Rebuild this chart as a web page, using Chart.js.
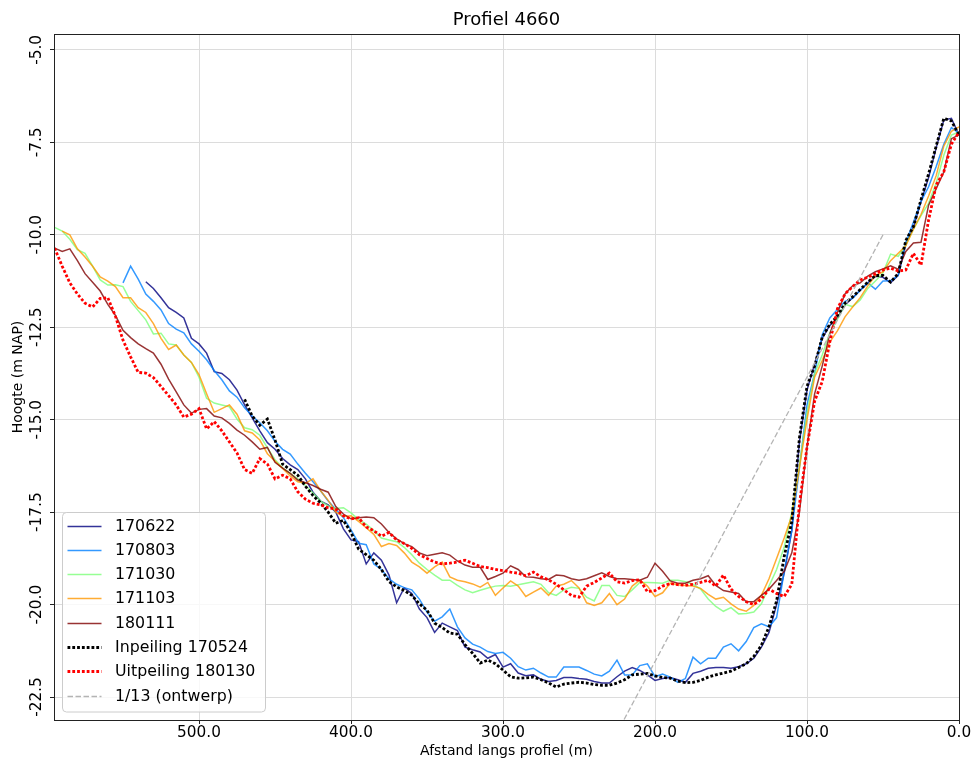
<!DOCTYPE html>
<html>
<head>
<meta charset="utf-8">
<title>Profiel 4660</title>
<script src="https://cdn.jsdelivr.net/npm/chart.js@4.4.1/dist/chart.umd.min.js"></script>
<style>
  html, body { margin: 0; padding: 0; background: #fff; }
  #wrap { width: 974px; height: 758px; }
</style>
</head>
<body>
<div id="wrap"><canvas id="profileChart" width="974" height="758"></canvas></div>
<script>
// afstand langs profiel (m), one value per 5 m
const dist = [
  595, 590, 585, 580, 575, 570, 565, 560, 555, 550,
  545, 540, 535, 530, 525, 520, 515, 510, 505, 500,
  495, 490, 485, 480, 475, 470, 465, 460, 455, 450,
  445, 440, 435, 430, 425, 420, 415, 410, 405, 400,
  395, 390, 385, 380, 375, 370, 365, 360, 355, 350,
  345, 340, 335, 330, 325, 320, 315, 310, 305, 300,
  295, 290, 285, 280, 275, 270, 265, 260, 255, 250,
  245, 240, 235, 230, 225, 220, 215, 210, 205, 200,
  195, 190, 185, 180, 175, 170, 165, 160, 155, 150,
  145, 140, 135, 130, 125, 120, 115, 110, 105, 100,
  95, 90, 85, 80, 75, 70, 65, 60, 55, 50,
  45, 40, 35, 30, 25, 20, 15, 10, 5, 0
];

// hoogte (m NAP) per survey
const h170622 = [
  null, null, null, null, null, null, null, null, null, null,
  null, null, -11.27, -11.45, -11.7, -11.97, -12.1, -12.25, -12.8, -12.95,
  -13.2, -13.7, -13.75, -13.92, -14.2, -14.6, -14.95, -15.3, -15.62, -15.8,
  -16.05, -16.22, -16.35, -16.6, -16.96, -17.2, -17.3, -17.5, -17.95, -18.25,
  -18.3, -18.9, -18.6, -18.8, -19.2, -19.95, -19.55, -19.7, -20.12, -20.35,
  -20.75, -20.5, -20.6, -20.7, -21.15, -21.22, -21.28, -21.45, -21.35, -21.69,
  -21.6, -21.85, -21.92, -21.9, -22.02, -22.08, -22.05, -21.97, -21.97, -22.0,
  -22.02, -22.08, -22.12, -22.12, -21.95, -21.8, -21.7, -21.78, -21.9, -22.05,
  -22.0, -21.97, -22.03, -22.1, -21.86, -21.8, -21.72, -21.7, -21.7, -21.72,
  -21.68, -21.6, -21.45, -21.15, -20.75, -20.0, -19.15, -18.0, -15.6, -14.2,
  -13.5, -12.8, -12.45, -12.25, -11.9, -11.7, -11.5, -11.3, -11.12, -11.15,
  -11.3, -11.1, -10.25, -9.8, -9.1, -8.45, -7.65, -6.9, -6.85, -7.3
];
const h170803 = [
  null, null, null, null, null, null, null, null, null, -11.3,
  -10.85, -11.2, -11.6, -11.8, -12.03, -12.4, -12.55, -12.65, -12.95, -13.15,
  -13.38, -13.67, -13.92, -14.22, -14.39, -14.68, -14.9, -15.08, -15.3, -15.58,
  -15.8, -15.93, -16.2, -16.45, -16.68, -16.92, -17.2, -17.42, -17.65, -17.98,
  -18.34, -18.38, -18.9, -19.05, -19.3, -19.45, -19.54, -19.6, -19.85, -20.2,
  -20.45, -20.33, -20.12, -20.6, -20.9, -21.07, -21.15, -21.27, -21.32, -21.29,
  -21.45, -21.68, -21.77, -21.72, -21.85, -21.96, -21.96, -21.69, -21.69, -21.69,
  -21.78, -21.88, -21.93, -21.8, -21.5, -21.9, -21.9, -21.65, -21.6, -21.95,
  -21.88, -21.96, -22.1, -22.0, -21.42, -21.6, -21.45, -21.45, -21.15, -21.06,
  -21.25, -21.0, -20.62, -20.52, -20.6, -20.35, -19.1, -18.0, -16.3, -14.6,
  -13.75, -12.7, -12.25, -12.02, -11.8, -11.72, -11.5, -11.3, -11.47, -11.25,
  -11.24, -11.1, -10.2, -9.66, -9.1, -8.7, -8.15, -7.55, -7.1, -7.25
];
const h171030 = [
  -9.8, -9.9, -10.12, -10.4, -10.5, -10.85, -11.22, -11.36, -11.35, -11.4,
  -11.8, -12.05, -12.3, -12.68, -12.66, -12.95, -12.98, -13.25, -13.45, -13.85,
  -14.42, -14.55, -14.6, -14.65, -14.98, -15.22, -15.27, -15.42, -15.76, -16.08,
  -16.3, -16.45, -16.6, -16.78, -16.98, -17.2, -17.33, -17.4, -17.38, -17.52,
  -17.7, -17.82, -18.0, -18.2, -18.25, -18.3, -18.45, -18.65, -18.88, -19.05,
  -19.2, -19.34, -19.34, -19.48, -19.6, -19.68, -19.61, -19.55, -19.5, -19.48,
  -19.5, -19.46, -19.42, -19.38, -19.45, -19.68, -19.75, -19.6, -19.53, -19.56,
  -19.8, -19.9, -19.48, -19.48, -19.75, -19.78, -19.6, -19.4, -19.4, -19.41,
  -19.42, -19.34, -19.34, -19.38, -19.45, -19.58, -19.85, -20.05, -20.18, -20.08,
  -20.25, -20.24, -20.2, -19.98, -19.5, -19.05, -18.45, -17.5, -16.25, -14.82,
  -13.75, -13.25, -12.65, -12.28, -11.88, -11.94, -11.76, -11.45, -11.25, -11.03,
  -10.52, -10.58, -10.28, -9.85, -9.48, -9.15, -8.6, -7.85, -7.3, -7.22
];
const h171103 = [
  null, -9.9, -10.0, -10.38, -10.6, -10.85, -11.14, -11.25, -11.4, -11.7,
  -11.7, -11.97, -12.1, -12.4, -12.8, -13.1, -12.98, -13.25, -13.45, -13.78,
  -14.3, -14.8, -14.7, -14.6, -14.85, -15.3, -15.36, -15.55, -15.92, -16.12,
  -16.32, -16.52, -16.68, -16.72, -16.6, -16.92, -17.18, -17.5, -17.62, -17.6,
  -17.75, -17.92, -18.1, -18.43, -18.35, -18.4, -18.6, -18.85, -18.98, -19.15,
  -18.98, -18.85, -19.25, -19.34, -19.38, -19.44, -19.53, -19.4, -19.75, -19.55,
  -19.36, -19.5, -19.78, -19.66, -19.55, -19.75, -19.5, -19.45, -19.35, -19.55,
  -19.95, -20.02, -19.95, -19.7, -20.0, -19.85, -19.5, -19.34, -19.5, -19.78,
  -19.68, -19.42, -19.46, -19.48, -19.5, -19.56, -19.72, -19.85, -19.8, -19.98,
  -20.12, -20.18, -20.02, -19.75, -19.3, -18.75, -18.2, -17.6, -16.3, -15.0,
  -13.85, -13.4, -12.9, -12.6, -12.22, -11.95, -11.7, -11.38, -11.1, -11.0,
  -10.7, -10.5, -10.3, -9.85, -9.45, -8.95, -8.4, -7.6, -7.2, -7.08
];
const h180111 = [
  -10.36, -10.45, -10.38, -10.7, -11.05, -11.28, -11.52, -11.88, -12.18, -12.58,
  -12.78, -12.95, -13.08, -13.2, -13.5, -13.9, -14.25, -14.6, -14.82, -14.72,
  -14.7, -14.9, -14.95, -15.1, -15.28, -15.42, -15.6, -15.8, -15.75, -16.15,
  -16.31, -16.45, -16.63, -16.7, -16.78, -16.88, -16.96, -17.35, -17.55, -17.68,
  -17.65, -17.63, -17.65, -17.82, -18.05, -18.22, -18.35, -18.43, -18.6, -18.68,
  -18.64, -18.6, -18.66, -18.82, -18.93, -18.99, -18.99, -19.32, -19.24, -19.15,
  -18.95, -19.05, -19.25, -19.26, -19.3, -19.32, -19.2, -19.22, -19.3, -19.34,
  -19.3, -19.22, -19.14, -19.24, -19.3, -19.3, -19.32, -19.34, -19.26, -18.88,
  -19.1, -19.36, -19.42, -19.42, -19.34, -19.3, -19.22, -19.48, -19.62, -19.66,
  -19.7, -19.92, -19.92, -19.75, -19.58, -19.35, -19.1, -18.6, -17.5, -15.74,
  -14.3, -13.55, -12.68, -12.1, -11.6, -11.38, -11.3, -11.12, -11.0, -10.92,
  -10.84, -10.93, -10.45, -10.22, -10.2, -9.2, -8.75, -8.3, -7.4, -7.3
];
const inpeiling170524 = [
  null, null, null, null, null, null, null, null, null, null,
  null, null, null, null, null, null, null, null, null, null,
  null, null, null, null, null, -14.45, -14.9, -15.15, -14.98, -15.55,
  -16.2, -16.35, -16.5, -16.8, -17.05, -17.25, -17.5, -17.8, -17.72, -18.05,
  -18.5, -18.65, -18.8, -19.05, -19.38, -19.52, -19.62, -19.75, -19.98, -20.15,
  -20.5, -20.62, -20.77, -20.8, -21.08, -21.32, -21.58, -21.5, -21.6, -21.77,
  -21.95, -21.99, -21.98, -21.96, -22.03, -22.12, -22.23, -22.15, -22.12, -22.1,
  -22.12, -22.16, -22.18, -22.18, -22.12, -22.03, -21.9, -21.88, -21.86, -21.93,
  -21.97, -21.99, -22.07, -22.11, -22.1, -22.05, -21.96, -21.9, -21.85, -21.8,
  -21.7, -21.6, -21.4, -21.1, -20.6, -19.9, -18.7, -17.75, -15.5, -14.1,
  -13.55, -12.77, -12.42, -12.2, -11.85, -11.68, -11.48, -11.28, -11.1, -11.1,
  -11.28, -11.05, -10.15, -9.78, -9.05, -8.35, -7.6, -6.85, -6.92, -7.3
];
const uitpeiling180130 = [
  -10.36, -10.85, -11.3, -11.6, -11.85, -11.95, -11.72, -11.7, -12.2, -12.85,
  -13.3, -13.72, -13.74, -13.86, -14.1, -14.35, -14.6, -14.93, -14.85, -14.7,
  -15.25, -15.05, -15.3, -15.6, -15.9, -16.35, -16.45, -16.05, -16.2, -16.6,
  -16.5, -16.6, -16.95, -17.15, -17.26, -17.3, -17.38, -17.42, -17.6, -17.68,
  -17.65, -17.9, -18.0, -18.15, -18.05, -18.25, -18.35, -18.48, -18.65, -18.75,
  -18.85, -18.9, -18.88, -18.85, -18.8, -18.88, -18.97, -19.0, -19.05, -19.08,
  -19.12, -19.15, -19.22, -19.12, -19.25, -19.33, -19.45, -19.6, -19.75, -19.8,
  -19.5, -19.4, -19.28, -19.15, -19.38, -19.42, -19.35, -19.33, -19.65, -19.62,
  -19.5, -19.43, -19.46, -19.48, -19.45, -19.4, -19.34, -19.5, -19.2, -19.58,
  -19.78, -19.92, -20.0, -19.85, -19.58, -19.7, -19.78, -19.45, -17.3, -15.74,
  -14.5, -13.97, -12.9, -12.0, -11.6, -11.4, -11.22, -11.15, -11.05, -10.95,
  -10.9, -10.98, -10.95, -10.5, -10.82, -9.6, -8.65, -8.3, -7.55, -7.22
];

// ontwerp talud 1/13
const designDist = [50, 230];
const designHeight = [-10.0, -23.85];

// tick positions
const xTickValues = [0, 100, 200, 300, 400, 500];
const yTickValues = [-22.5, -20.0, -17.5, -15.0, -12.5, -10.0, -7.5, -5.0];

const tickFmt = v => v.toFixed(1);

function toPoints(xs, ys) {
  return xs.map((x, i) => ys[i] === null ? null : { x: x, y: ys[i] }).filter(p => p);
}

const dotted = [2.8, 2.0];

const datasets = [
  { label: '170622', data: toPoints(dist, h170622), borderColor: 'rgba(0,0,128,0.8)', borderWidth: 1.5 },
  { label: '170803', data: toPoints(dist, h170803), borderColor: 'rgba(0,128,255,0.8)', borderWidth: 1.5 },
  { label: '171030', data: toPoints(dist, h171030), borderColor: 'rgba(124,255,121,0.8)', borderWidth: 1.5 },
  { label: '171103', data: toPoints(dist, h171103), borderColor: 'rgba(255,151,0,0.8)', borderWidth: 1.5 },
  { label: '180111', data: toPoints(dist, h180111), borderColor: 'rgba(128,0,0,0.8)', borderWidth: 1.5 },
  { label: 'Inpeiling 170524', data: toPoints(dist, inpeiling170524), borderColor: '#000000', borderWidth: 2.8, borderDash: dotted },
  { label: 'Uitpeiling 180130', data: toPoints(dist, uitpeiling180130), borderColor: '#ff0000', borderWidth: 2.8, borderDash: dotted },
  { label: '1/13 (ontwerp)', data: toPoints(designDist, designHeight), borderColor: '#b4b4b4', borderWidth: 1.3, borderDash: [5.5, 2.5] }
];
// later series on top, like the original plot
datasets.forEach((d, i) => {
  d.order = datasets.length - i;
  d.pointRadius = 0;
  d.tension = 0;
  d.fill = false;
  d.borderCapStyle = 'butt';
});

// legend in the lower left corner of the axes
const legendBox = {
  id: 'legendBox',
  afterDatasetsDraw(chart) {
    const ctx = chart.ctx;
    const area = chart.chartArea;
    const x0 = area.left + 8.5;
    const y0 = area.bottom - 207.5;
    const w = 203, h = 199.5, r = 4;
    ctx.save();
    ctx.beginPath();
    ctx.moveTo(x0 + r, y0);
    ctx.arcTo(x0 + w, y0, x0 + w, y0 + h, r);
    ctx.arcTo(x0 + w, y0 + h, x0, y0 + h, r);
    ctx.arcTo(x0, y0 + h, x0, y0, r);
    ctx.arcTo(x0, y0, x0 + w, y0, r);
    ctx.closePath();
    ctx.fillStyle = 'rgba(255,255,255,0.8)';
    ctx.fill();
    ctx.strokeStyle = '#cccccc';
    ctx.lineWidth = 1;
    ctx.stroke();

    ctx.font = '15.8px "DejaVu Sans"';
    ctx.textBaseline = 'middle';
    ctx.textAlign = 'left';
    chart.data.datasets.forEach((ds, i) => {
      const y = Math.round(y0 + 13 + i * 24.3) + 0.5;
      ctx.beginPath();
      ctx.setLineDash(ds.borderDash || []);
      ctx.lineWidth = ds.borderWidth;
      ctx.strokeStyle = ds.borderColor;
      ctx.moveTo(x0 + 5, y);
      ctx.lineTo(x0 + 39, y);
      ctx.stroke();
      ctx.setLineDash([]);
      ctx.fillStyle = '#000';
      ctx.fillText(ds.label, x0 + 52.5, y);
    });
    ctx.restore();
  }
};

// four spines around the axes
const frame = {
  id: 'frame',
  afterDraw(chart) {
    const { left, top, right, bottom } = chart.chartArea;
    const ctx = chart.ctx;
    ctx.save();
    ctx.strokeStyle = '#222';
    ctx.lineWidth = 1;
    ctx.strokeRect(Math.round(left) + 0.5, Math.round(top) + 0.5,
      Math.round(right - left), Math.round(bottom - top));
    ctx.restore();
  }
};

Chart.defaults.font.family = '"DejaVu Sans", sans-serif';
Chart.defaults.color = '#000';

const ctx = document.getElementById('profileChart').getContext('2d');
const chart = new Chart(ctx, {
  type: 'line',
  data: { datasets: datasets },
  options: {
    responsive: false,
    animation: false,
    devicePixelRatio: 1,
    layout: { padding: { left: 0, right: 15, top: 0, bottom: 0 } },
    plugins: {
      legend: { display: false },
      tooltip: { enabled: false },
      title: {
        display: true,
        text: 'Profiel 4660',
        fullSize: false,
        color: '#000',
        font: { size: 18, weight: 'normal' },
        padding: { top: 10, bottom: 2.4 }
      }
    },
    scales: {
      x: {
        type: 'linear',
        reverse: true,
        min: 0,
        max: 595.4,
        afterFit(s) { s.height = 38; },
        afterBuildTicks(s) { s.ticks = xTickValues.map(v => ({ value: v })); },
        ticks: {
          autoSkip: false,
          maxRotation: 0,
          padding: 0,
          color: '#000',
          font: { size: 15.3 },
          callback: tickFmt
        },
        grid: { color: '#dcdcdc', tickLength: 4, tickColor: '#222' },
        border: { display: false },
        title: {
          display: true,
          text: 'Afstand langs profiel (m)',
          color: '#000',
          font: { size: 14, lineHeight: 1 },
          padding: 0
        }
      },
      y: {
        type: 'linear',
        min: -23.12,
        max: -4.57,
        afterFit(s) { s.width = 54; },
        afterBuildTicks(s) { s.ticks = yTickValues.map(v => ({ value: v })); },
        ticks: {
          autoSkip: false,
          minRotation: 90,
          maxRotation: 90,
          crossAlign: 'center',
          padding: -7,
          color: '#000',
          font: { size: 15.3 },
          callback: tickFmt
        },
        grid: { color: '#dcdcdc', tickLength: 4, tickColor: '#222' },
        border: { display: false },
        title: {
          display: true,
          text: 'Hoogte (m NAP)',
          color: '#000',
          font: { size: 14 },
          padding: { top: 10, bottom: 0 }
        }
      }
    }
  },
  plugins: [legendBox, frame]
});
</script>
</body>
</html>
